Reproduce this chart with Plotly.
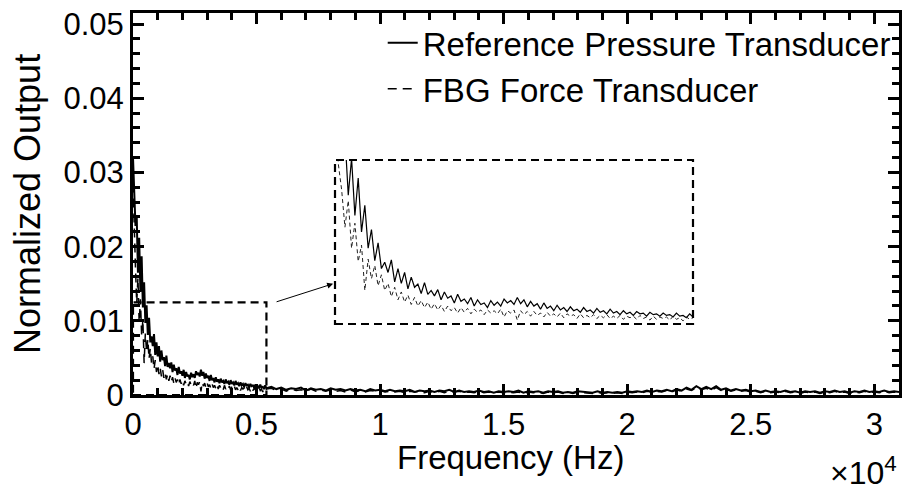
import numpy as np
import plotly.graph_objects as go

# ---------------- data ----------------
fine_freq = np.arange(0, 5401, 50)          # Hz, 0 .. 5400
coarse_freq = np.arange(5600, 31001, 200)   # Hz, 5600 .. 31000

ref_fine = [
    0.0320, 0.0255, 0.0228, 0.0241, 0.0165, 0.0212, 0.0139, 0.0187, 0.0118, 0.0152,
    0.0097, 0.0121, 0.0081, 0.0104, 0.0071, 0.0079, 0.0066, 0.0082, 0.0054, 0.0071,
    0.0052, 0.0066, 0.0045, 0.0060, 0.0047, 0.0051, 0.0039, 0.0053, 0.0038, 0.0043,
    0.0036, 0.0044, 0.0031, 0.0041, 0.0033, 0.0036, 0.0027, 0.0038, 0.0029, 0.0032,
    0.0026, 0.0034, 0.0023, 0.0031, 0.0025, 0.0027, 0.0021, 0.0030, 0.0024, 0.0028,
    0.0023, 0.0032, 0.0027, 0.0030, 0.0025, 0.0034, 0.0026, 0.0031, 0.0022, 0.0029,
    0.0023, 0.0026, 0.0019, 0.0027, 0.0020, 0.0023, 0.0017, 0.0024, 0.0018, 0.0021,
    0.0016, 0.0022, 0.0017, 0.0019, 0.0015, 0.0021, 0.0016, 0.0018, 0.0014, 0.0020,
    0.0015, 0.0017, 0.0013, 0.0019, 0.0014, 0.0016, 0.0012, 0.0017, 0.0013, 0.0015,
    0.0011, 0.0016, 0.0013, 0.0014, 0.0010, 0.0015, 0.0012, 0.0013, 0.0010, 0.0014,
    0.0011, 0.0012, 0.0009, 0.0014, 0.0010, 0.0011, 0.0008, 0.0013, 0.0009,
]
fbg_fine = [
    0.0285, 0.0205, 0.0172, 0.0124, 0.0158, 0.0097, 0.0129, 0.0080, 0.0101, 0.0043,
    0.0083, 0.0058, 0.0075, 0.0049, 0.0063, 0.0043, 0.0052, 0.0035, 0.0047, 0.0031,
    0.0041, 0.0028, 0.0037, 0.0025, 0.0034, 0.0023, 0.0030, 0.0021, 0.0028, 0.0019,
    0.0026, 0.0018, 0.0024, 0.0016, 0.0023, 0.0017, 0.0021, 0.0014, 0.0021, 0.0015,
    0.0020, 0.0013, 0.0019, 0.0015, 0.0018, 0.0012, 0.0018, 0.0014, 0.0017, 0.0013,
    0.0019, 0.0009, 0.0017, 0.0014, 0.0018, 0.0005, 0.0017, 0.0012, 0.0016, 0.0010,
    0.0016, 0.0011, 0.0014, 0.0009, 0.0015, 0.0010, 0.0013, 0.0009, 0.0014, 0.0008,
    0.0013, 0.0010, 0.0012, 0.0007, 0.0013, 0.0008, 0.0011, 0.0008, 0.0012, 0.0007,
    0.0011, 0.0008, 0.0012, 0.0007, 0.0010, 0.0007, 0.0011, 0.0006, 0.0010, 0.0008,
    0.0010, 0.0006, 0.0011, 0.0007, 0.0009, 0.0005, 0.0010, 0.0006, 0.0009, 0.0007,
    0.0009, 0.0005, 0.0010, 0.0006, 0.0008, 0.0004, 0.0009, 0.0006, 0.0008,
]
ref_coarse = [
    0.0011, 0.0008, 0.0010, 0.0007, 0.0009, 0.0008, 0.0010, 0.0006, 0.0009, 0.0007, 0.0008, 0.0006, 0.0009, 0.0007, 0.0008, 0.0006,
    0.0008, 0.0006, 0.0007, 0.0005, 0.0008, 0.0006, 0.0007, 0.0005, 0.0007, 0.0005, 0.0006, 0.0005, 0.0007, 0.0004, 0.0006, 0.0005,
    0.0006, 0.0004, 0.0006, 0.0005, 0.0007, 0.0004, 0.0006, 0.0004, 0.0005, 0.0004, 0.0006, 0.0004, 0.0005, 0.0003, 0.0005, 0.0004,
    0.0005, 0.0004, 0.0006, 0.0003, 0.0005, 0.0004, 0.0005, 0.0003, 0.0005, 0.0004, 0.0005, 0.0003, 0.0004, 0.0003, 0.0005, 0.0004,
    0.0004, 0.0003, 0.0005, 0.0003, 0.0004, 0.0003, 0.0004, 0.0003, 0.0005, 0.0004, 0.0005, 0.0004, 0.0006, 0.0004, 0.0006, 0.0005,
    0.0007, 0.0005, 0.0008, 0.0006, 0.0010, 0.0007, 0.0012, 0.0008, 0.0011, 0.0008, 0.0012, 0.0007, 0.0009, 0.0006, 0.0008, 0.0006,
    0.0007, 0.0005, 0.0006, 0.0004, 0.0006, 0.0004, 0.0005, 0.0004, 0.0006, 0.0004, 0.0005, 0.0003, 0.0005, 0.0004, 0.0005, 0.0003,
    0.0005, 0.0004, 0.0006, 0.0004, 0.0005, 0.0003, 0.0005, 0.0004, 0.0006, 0.0004, 0.0005, 0.0004, 0.0006, 0.0004, 0.0005, 0.0004,
]
fbg_coarse = [
    0.0009, 0.0006, 0.0008, 0.0005, 0.0008, 0.0006, 0.0007, 0.0005, 0.0008, 0.0005, 0.0007, 0.0005, 0.0007, 0.0005, 0.0006, 0.0004,
    0.0007, 0.0004, 0.0006, 0.0004, 0.0006, 0.0005, 0.0006, 0.0004, 0.0005, 0.0004, 0.0005, 0.0003, 0.0005, 0.0004, 0.0005, 0.0003,
    0.0005, 0.0003, 0.0005, 0.0003, 0.0005, 0.0004, 0.0005, 0.0003, 0.0004, 0.0003, 0.0005, 0.0003, 0.0004, 0.0003, 0.0004, 0.0003,
    0.0004, 0.0003, 0.0004, 0.0002, 0.0004, 0.0003, 0.0004, 0.0002, 0.0004, 0.0003, 0.0004, 0.0002, 0.0004, 0.0002, 0.0004, 0.0003,
    0.0003, 0.0002, 0.0004, 0.0002, 0.0003, 0.0002, 0.0003, 0.0002, 0.0004, 0.0003, 0.0004, 0.0003, 0.0005, 0.0004, 0.0005, 0.0004,
    0.0006, 0.0004, 0.0007, 0.0005, 0.0008, 0.0006, 0.0010, 0.0007, 0.0009, 0.0006, 0.0010, 0.0006, 0.0008, 0.0005, 0.0007, 0.0005,
    0.0006, 0.0004, 0.0005, 0.0003, 0.0005, 0.0003, 0.0004, 0.0003, 0.0005, 0.0003, 0.0004, 0.0002, 0.0004, 0.0003, 0.0004, 0.0002,
    0.0004, 0.0003, 0.0005, 0.0003, 0.0004, 0.0002, 0.0004, 0.0003, 0.0005, 0.0003, 0.0004, 0.0003, 0.0005, 0.0003, 0.0004, 0.0003,
]

x_tick_vals = [0, 5000, 10000, 15000, 20000, 25000, 30000]
x_tick_text = ["0", "0.5", "1", "1.5", "2", "2.5", "3"]
x_minor_vals = [1000, 2000, 3000, 4000, 6000, 7000, 8000, 9000, 11000, 12000, 13000, 14000,
                16000, 17000, 18000, 19000, 21000, 22000, 23000, 24000, 26000, 27000, 28000, 29000]
y_tick_vals = [0, 0.01, 0.02, 0.03, 0.04, 0.05]
y_tick_text = ["0", "0.01", "0.02", "0.03", "0.04", "0.05"]
y_minor_vals = [0.002, 0.004, 0.006, 0.008, 0.012, 0.014, 0.016, 0.018, 0.022, 0.024, 0.026, 0.028,
                0.032, 0.034, 0.036, 0.038, 0.042, 0.044, 0.046, 0.048]

series_names = ["Reference Pressure Transducer", "FBG Force Transducer"]

zoom_box_x = [0, 5400]
zoom_box_y = [0, 0.0125]
inset_y_range = [0, 0.021]

x_range = [0, 31000]
y_range = [0, 0.0515]

freq = np.concatenate([fine_freq, coarse_freq])
ref_vals = np.array(ref_fine + ref_coarse)
fbg_vals = np.array(fbg_fine + fbg_coarse)

FONT = "Liberation Sans, Arial, sans-serif"

fig = go.Figure()
fig.add_trace(go.Scatter(x=freq, y=ref_vals, mode="lines", name=series_names[0],
                         line=dict(color="black", width=2)))
fig.add_trace(go.Scatter(x=freq, y=fbg_vals, mode="lines", name=series_names[1],
                         line=dict(color="black", width=1.5, dash="9px,6px")))

# inset (zoom of the dashed region)
fig.add_trace(go.Scatter(x=fine_freq, y=ref_fine, mode="lines", showlegend=False,
                         xaxis="x2", yaxis="y2", line=dict(color="black", width=1.2)))
fig.add_trace(go.Scatter(x=fine_freq, y=fbg_fine, mode="lines", showlegend=False,
                         xaxis="x2", yaxis="y2", line=dict(color="#222", width=1, dash="4px,3px")))

# empty trace so the mirrored (top / right) tick axes are drawn
fig.add_trace(go.Scatter(x=[None], y=[None], mode="lines", showlegend=False, hoverinfo="skip",
                         xaxis="x3", yaxis="y3"))

L, R, T, B = 133, 4, 13, 98
W, H = 903, 493
pw, ph = W - L - R, H - T - B

def px_x(p):
    return (p - L) / pw

def px_y(p):
    return (H - B - p) / ph

inset_x = [px_x(335), px_x(693)]
inset_y = [px_y(324), px_y(160)]

tick_common = dict(showgrid=False, zeroline=False, ticks="inside", ticklen=11, tickwidth=3,
                   tickcolor="black", automargin=False,
                   tickfont=dict(family=FONT, size=31, color="black"))
minor_x = dict(tickvals=x_minor_vals, ticks="inside", ticklen=7, tickwidth=2.5, tickcolor="black")
minor_y = dict(tickvals=y_minor_vals, ticks="inside", ticklen=7, tickwidth=2.5, tickcolor="black")

fig.update_layout(
    width=W, height=H,
    margin=dict(l=L, r=R, t=T, b=B, autoexpand=False),
    plot_bgcolor="white", paper_bgcolor="white",
    font=dict(family=FONT, color="black"),
    xaxis=dict(range=x_range, tickmode="array", tickvals=x_tick_vals, ticktext=x_tick_text,
               minor=minor_x, showline=True, linecolor="black", linewidth=3, mirror=True,
               **tick_common),
    yaxis=dict(range=y_range, tickmode="array", tickvals=y_tick_vals, ticktext=y_tick_text,
               minor=minor_y, showline=True, linecolor="black", linewidth=3, mirror=True,
               **tick_common),
    xaxis3=dict(range=x_range, overlaying="x", side="top", anchor="y3", tickmode="array",
                tickvals=x_tick_vals, showticklabels=False, minor=minor_x, showline=False,
                **tick_common),
    yaxis3=dict(range=y_range, overlaying="y", side="right", anchor="x3", tickmode="array",
                tickvals=y_tick_vals, showticklabels=False, minor=minor_y, showline=False,
                **tick_common),
    xaxis2=dict(domain=inset_x, range=zoom_box_x, anchor="y2", visible=False, automargin=False),
    yaxis2=dict(domain=inset_y, range=inset_y_range, anchor="x2", visible=False, automargin=False),
    legend=dict(x=0.326, y=0.995, xanchor="left", yanchor="top", bgcolor="rgba(0,0,0,0)",
                font=dict(family=FONT, size=33, color="black"), tracegroupgap=0),
    showlegend=True,
)

# dashed zoom region in main axes
fig.add_shape(type="rect", xref="x", yref="y", x0=zoom_box_x[0], x1=zoom_box_x[1],
              y0=zoom_box_y[0], y1=zoom_box_y[1],
              line=dict(color="black", width=2.2, dash="8px,5px"))
# inset border
fig.add_shape(type="rect", xref="paper", yref="paper", x0=inset_x[0], x1=inset_x[1],
              y0=inset_y[0], y1=inset_y[1],
              line=dict(color="black", width=2.2, dash="8px,5px"))

# arrow
fig.add_annotation(x=8100, y=0.0150, ax=5750, ay=0.0125, axref="x", ayref="y",
                   xref="x", yref="y", showarrow=True, arrowhead=2, arrowsize=1.2,
                   arrowwidth=1, arrowcolor="black", text="")

# axis titles
fig.add_annotation(text="Frequency (Hz)", xref="paper", yref="paper", x=px_x(510), y=px_y(457),
                   xanchor="center", yanchor="middle", showarrow=False,
                   font=dict(family=FONT, size=33, color="black"))
fig.add_annotation(text="Normalized Output", xref="paper", yref="paper", x=px_x(27), y=px_y(204),
                   xanchor="center", yanchor="middle", textangle=-90, showarrow=False,
                   font=dict(family=FONT, size=36, color="black"))
fig.add_annotation(text="×10<sup>4</sup>", xref="paper", yref="paper", x=1.0, y=px_y(493),
                   xanchor="right", yanchor="bottom", showarrow=False,
                   font=dict(family=FONT, size=32, color="black"))

fig.write_html("out.html", config={"displayModeBar": False},
               post_script="document.body.style.margin='0';document.body.style.overflow='hidden';")
